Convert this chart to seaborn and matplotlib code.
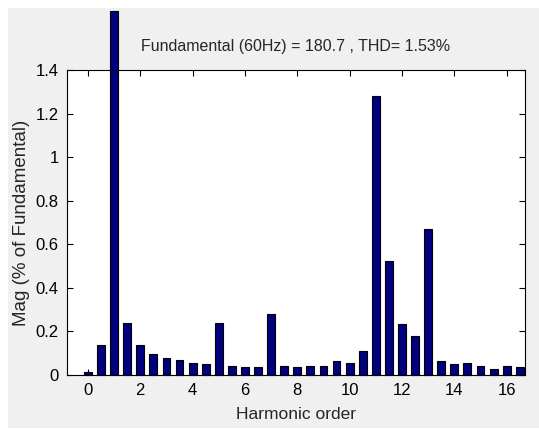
import numpy as np
import pandas as pd
import seaborn as sns
import matplotlib.pyplot as plt
from matplotlib.patches import Rectangle

# harmonic orders in steps of 0.5 (interharmonics included)
orders = [0.0, 0.5, 1.0, 1.5, 2.0, 2.5, 3.0, 3.5, 4.0, 4.5, 5.0, 5.5,
          6.0, 6.5, 7.0, 7.5, 8.0, 8.5, 9.0, 9.5, 10.0, 10.5, 11.0, 11.5,
          12.0, 12.5, 13.0, 13.5, 14.0, 14.5, 15.0, 15.5, 16.0, 16.5]
# magnitude, % of fundamental (fundamental bar runs off the top of the axes)
mags = [0.015, 0.137, 1.67, 0.24, 0.137, 0.098, 0.077, 0.069, 0.057, 0.049,
        0.24, 0.043, 0.037, 0.037, 0.28, 0.043, 0.037, 0.043, 0.043, 0.063,
        0.057, 0.11, 1.28, 0.523, 0.232, 0.179, 0.671, 0.063, 0.049, 0.057,
        0.043, 0.029, 0.043, 0.037]
xticks = [0, 2, 4, 6, 8, 10, 12, 14, 16]
yticks = [0, 0.2, 0.4, 0.6, 0.8, 1.0, 1.2, 1.4]
ytick_labels = ['0', '0.2', '0.4', '0.6', '0.8', '1', '1.2', '1.4']

df = pd.DataFrame({'order': orders, 'mag': mags})

sns.set_theme(style='ticks')
plt.rcParams['font.family'] = ['Liberation Sans Narrow', 'Liberation Sans', 'DejaVu Sans']

fig = plt.figure(figsize=(5.39, 4.29), dpi=100, facecolor='white')
# grey MATLAB-style figure panel with a thin white border
fig.patches.append(Rectangle((8 / 539, 1 / 429), 1 - 8 / 539, 1 - 9 / 429,
                             transform=fig.transFigure, facecolor='#f0f0f0',
                             edgecolor='none', zorder=-10))
ax = fig.add_axes([67 / 539, 1 - 375 / 429, 458 / 539, 305 / 429])
ax.set_facecolor('white')

sns.barplot(data=df, x='order', y='mag', native_scale=True, width=0.6,
            color='#00007f', saturation=1, edgecolor='black', linewidth=0.8,
            errorbar=None, ax=ax)
for p in ax.patches:
    p.set_clip_on(False)

ax.set_xlim(-0.8, 16.7)
ax.set_ylim(0, 1.4)
ax.set_xticks(xticks)
ax.set_xticklabels([str(t) for t in xticks])
ax.set_yticks(yticks)
ax.set_yticklabels(ytick_labels)
ax.tick_params(direction='in', top=True, right=True, length=4, width=0.8,
               labelsize=12, colors='black', pad=6)
for s in ax.spines.values():
    s.set_linewidth(0.8)
    s.set_color('black')
    s.set_visible(True)

ax.set_xlabel('Harmonic order', fontsize=12.5, labelpad=6)
ax.set_ylabel('Mag (% of Fundamental)', fontsize=13.5, labelpad=4)
ax.set_title('Fundamental (60Hz) = 180.7 , THD= 1.53%', fontsize=11.5, pad=14)

fig.savefig('out.png', dpi=100, facecolor=fig.get_facecolor())
